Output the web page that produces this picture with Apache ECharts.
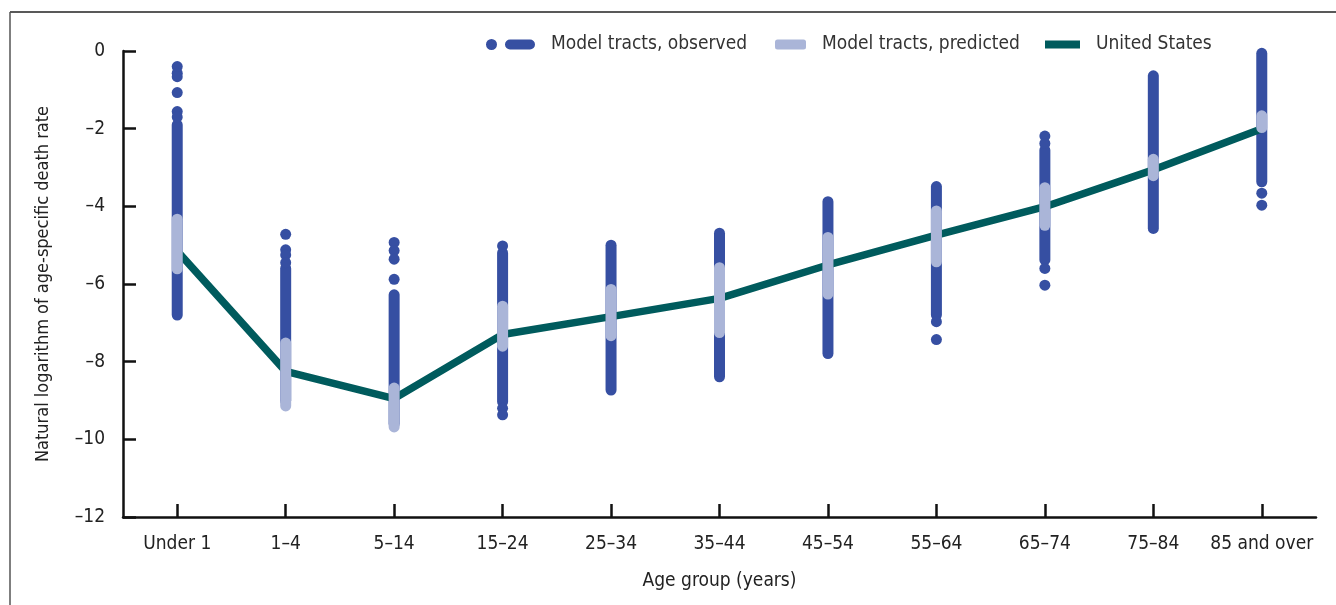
<!DOCTYPE html>
<html style="height: 100%">
<head>
<meta charset="utf-8">
<style>
    html, body {
        height: 100%;
        margin: 0;
        overflow: hidden;
        background: #fff;
    }
    #container {
        width: 1336px;
        height: 605px;
    }
</style>
<title>Age-specific death rates</title>
</head>
<body>
<div id="container"></div>
<script src="https://cdn.jsdelivr.net/npm/echarts@6/dist/echarts.min.js"></script>
<script type="text/javascript">
// age groups on the x axis
var categories = ['Under 1', '1–4', '5–14', '15–24', '25–34', '35–44', '45–54', '55–64', '65–74', '75–84', '85 and over'];
// observed tracts: dense part of each column (low, high)
var obsLow  = [-6.8, -9.0, -9.6, -9.03, -8.73, -8.39, -7.79, -6.80, -5.38, -4.57, -3.37];
var obsHigh = [-1.9, -5.6, -6.28, -5.2, -5.0, -4.69, -3.88, -3.49, -2.55, -0.64, -0.06];
// observed tracts: separate dots outside the dense part [group index, value]
var obsOutliers = [
    [0, -0.40], [0, -0.57], [0, -0.66], [0, -1.07], [0, -1.56], [0, -1.70],
    [1, -4.72], [1, -5.12], [1, -5.25], [1, -5.45],
    [2, -4.93], [2, -5.14], [2, -5.36], [2, -5.88],
    [3, -5.02], [3, -9.2], [3, -9.37],
    [7, -6.97], [7, -7.43],
    [8, -2.19], [8, -2.38], [8, -5.6], [8, -6.03],
    [10, -3.66], [10, -3.97]
];
// predicted tracts (low, high)
var predLow  = [-5.61, -9.14, -9.68, -7.6, -7.33, -7.25, -6.26, -5.43, -4.49, -3.21, -1.97];
var predHigh = [-4.33, -7.52, -8.68, -6.57, -6.14, -5.58, -4.80, -4.12, -3.52, -2.79, -1.67];
// United States
var usRate = [-5.15, -8.25, -8.95, -7.3, -6.84, -6.37, -5.51, -4.74, -4.01, -3.06, -2.0];
var yTicks = { min: -12, max: 0, interval: 2 };

var OBS = '#364fa2';
var PRED = '#aab5d8';
var US = '#005b5d';
var FONT = "'Liberation Sans Narrow', 'DejaVu Sans Condensed', sans-serif";

var obsRanges = categories.map(function (c, i) { return [i, obsLow[i], obsHigh[i]]; });
var predRanges = categories.map(function (c, i) { return [i, predLow[i], predHigh[i]]; });

function rangeRenderer(color) {
    return function (params, api) {
        var top = api.coord([api.value(0), api.value(2)]);
        var bottom = api.coord([api.value(0), api.value(1)]);
        return {
            type: 'line',
            shape: { x1: top[0], y1: top[1], x2: bottom[0], y2: bottom[1] },
            style: { stroke: color, lineWidth: 11, lineCap: 'round' }
        };
    };
}

function dash(v) { return String(v).replace('-', '–'); }

var legendText = { fontFamily: FONT, fontSize: 19, color: '#333', padding: [0, 0, 0, 11] };

var myChart = echarts.init(document.getElementById('container'));
var option = {
    animation: false,
    textStyle: { fontFamily: FONT },
    graphic: [
        { type: 'line', shape: { x1: 10, y1: 12, x2: 1336, y2: 12 }, style: { stroke: '#222', lineWidth: 1.5 } },
        { type: 'line', shape: { x1: 10, y1: 12, x2: 10, y2: 605 }, style: { stroke: '#555', lineWidth: 1.5 } }
    ],
    legend: [
        {
            left: 486, top: 35, padding: 0, itemWidth: 49, itemHeight: 11, itemGap: 0,
            textStyle: legendText,
            data: [{ name: 'Model tracts, observed',
                     icon: 'path://M0,5.5a5.5,5.5 0 1,0 11,0a5.5,5.5 0 1,0 -11,0Z M24,0.5H44A5,5 0 0,1 44,10.5H24A5,5 0 0,1 24,0.5Z' }]
        },
        {
            left: 775, top: 35, padding: 0, itemWidth: 31, itemHeight: 10, itemGap: 0,
            textStyle: legendText,
            data: [{ name: 'Model tracts, predicted', icon: 'roundRect' }]
        },
        {
            left: 1045, top: 35, padding: 0, itemWidth: 35, itemHeight: 8, itemGap: 0,
            textStyle: legendText,
            data: [{ name: 'United States', icon: 'rect' }]
        }
    ],
    grid: { left: 123, right: 20, top: 51, bottom: 88 },
    xAxis: {
        type: 'category',
        data: categories,
        boundaryGap: true,
        name: 'Age group (years)',
        nameLocation: 'middle',
        nameGap: 55,
        nameTextStyle: { fontFamily: FONT, fontSize: 19, color: '#222' },
        axisLine: { show: true, onZero: false, lineStyle: { color: '#111', width: 2.5 } },
        axisTick: { show: true, alignWithLabel: true, inside: true, length: 13, interval: 0, lineStyle: { color: '#111', width: 2.5 } },
        axisLabel: { margin: 18, interval: 0, fontSize: 19, color: '#222', fontFamily: FONT },
        splitLine: { show: false }
    },
    yAxis: {
        type: 'value',
        min: yTicks.min,
        max: yTicks.max,
        interval: yTicks.interval,
        name: 'Natural logarithm of age-specific death rate',
        nameLocation: 'middle',
        nameGap: 71,
        nameRotate: 90,
        nameTextStyle: { fontFamily: FONT, fontSize: 18, color: '#222' },
        axisLine: { show: true, lineStyle: { color: '#111', width: 2.5 } },
        axisTick: { show: true, inside: true, length: 13, lineStyle: { color: '#111', width: 2.5 } },
        axisLabel: { margin: 18, fontSize: 19, color: '#222', fontFamily: FONT, formatter: dash },
        splitLine: { show: false }
    },
    series: [
        {
            name: 'Model tracts, observed',
            type: 'custom',
            renderItem: rangeRenderer(OBS),
            itemStyle: { color: OBS },
            encode: { x: 0, y: [1, 2] },
            data: obsRanges,
            z: 2
        },
        {
            name: 'Model tracts, observed',
            type: 'scatter',
            symbolSize: 11,
            itemStyle: { color: OBS, opacity: 1 },
            data: obsOutliers,
            z: 2
        },
        {
            name: 'United States',
            type: 'line',
            data: usRate,
            showSymbol: false,
            symbol: 'none',
            lineStyle: { color: US, width: 7.5 },
            itemStyle: { color: US },
            z: 3
        },
        {
            name: 'Model tracts, predicted',
            type: 'custom',
            renderItem: rangeRenderer(PRED),
            itemStyle: { color: PRED },
            encode: { x: 0, y: [1, 2] },
            data: predRanges,
            z: 4
        }
    ]
};
myChart.setOption(option);
window.addEventListener('resize', function () { myChart.resize(); });
</script>
</body>
</html>
